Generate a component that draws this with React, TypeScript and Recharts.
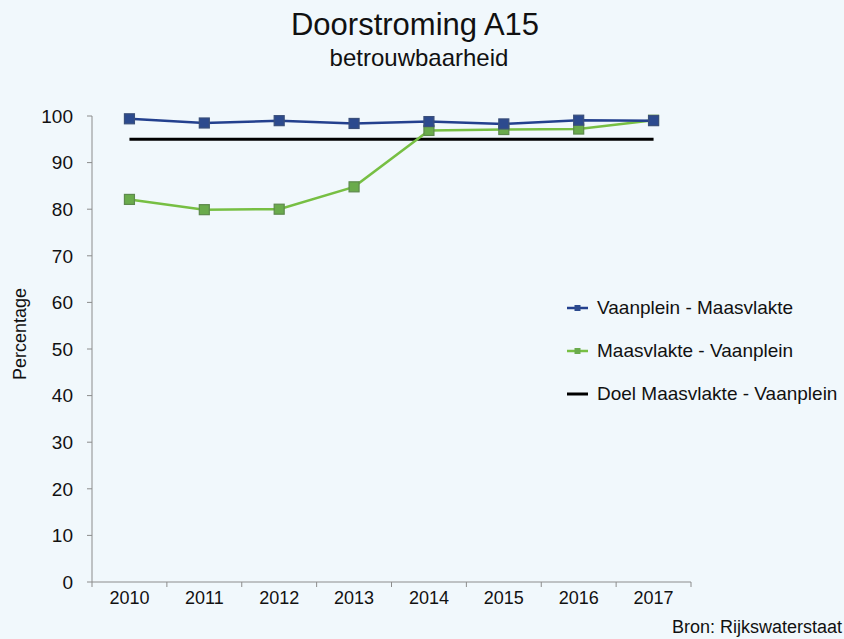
import React from 'react';
import { LineChart, Line, XAxis, YAxis, Legend } from 'recharts';

// Data
const jaren = ['2010', '2011', '2012', '2013', '2014', '2015', '2016', '2017'];
const vaanpleinMaasvlakte = [99.4, 98.5, 99.0, 98.4, 98.8, 98.3, 99.1, 99.0];
const maasvlakteVaanplein = [82.1, 79.9, 80.0, 84.8, 96.9, 97.1, 97.2, 99.1];
const doelMaasvlakteVaanplein = [95, 95, 95, 95, 95, 95, 95, 95];
const yTicks = [0, 10, 20, 30, 40, 50, 60, 70, 80, 90, 100];

const data = jaren.map((jaar, i) => ({
  jaar,
  vm: vaanpleinMaasvlakte[i],
  mv: maasvlakteVaanplein[i],
  doel: doelMaasvlakteVaanplein[i],
}));

const W = 844;
const H = 639;
const PLOT_LEFT = 92;
const PLOT_RIGHT = 691;
const BAND = (PLOT_RIGHT - PLOT_LEFT) / jaren.length;
const FONT = '"Liberation Sans", Arial, sans-serif';
const AXIS = '#8c8c8c';

const BLUE = '#23408e';
const BLUE_FILL = '#2c4a8e';
const GREEN = '#77bf43';
const GREEN_FILL = '#6aab4c';

const SquareDot = ({ cx, cy, fill, stroke }: any) => {
  if (cx == null || cy == null) return null;
  return <rect x={cx - 5} y={cy - 5} width={10} height={10} fill={fill} stroke={stroke} strokeWidth={1.2} />;
};

// x-axis ticks sit between the categories (Excel style)
const XTick = ({ x, y, payload, index }: any) => {
  const axisY = y - 5;
  const last = index === jaren.length - 1;
  return (
    <g>
      <line x1={x - BAND / 2} x2={x - BAND / 2} y1={axisY} y2={axisY + 5} stroke={AXIS} />
      {last && <line x1={x + BAND / 2} x2={x + BAND / 2} y1={axisY} y2={axisY + 5} stroke={AXIS} />}
      <text x={x} y={axisY + 22} textAnchor="middle" fill="#111" fontSize={18} fontFamily={FONT}>
        {payload.value}
      </text>
    </g>
  );
};

const legendItems = [
  { label: 'Vaanplein - Maasvlakte', color: BLUE, fill: BLUE_FILL, marker: true },
  { label: 'Maasvlakte - Vaanplein', color: GREEN, fill: GREEN_FILL, marker: true },
  { label: 'Doel Maasvlakte - Vaanplein', color: '#000', fill: '#000', marker: false },
];

const CustomLegend = () => (
  <div style={{ fontFamily: FONT, fontSize: 19, color: '#111' }}>
    {legendItems.map((it) => (
      <div key={it.label} style={{ display: 'flex', alignItems: 'center', height: 43 }}>
        <svg width={30} height={12}>
          <line x1={0} x2={21} y1={6} y2={6} stroke={it.color} strokeWidth={it.marker ? 2.5 : 3} />
          {it.marker && <rect x={7.5} y={3} width={6} height={6} fill={it.fill} />}
        </svg>
        <span>{it.label}</span>
      </div>
    ))}
  </div>
);

export default function App() {
  return (
    <div style={{ position: 'absolute', left: 0, top: 0, width: W, height: H, background: '#f1f8fc', fontFamily: FONT }}>
      <div style={{ position: 'absolute', left: 0, width: W - 14, top: 7, textAlign: 'center', fontSize: 31, color: '#111', lineHeight: '36px' }}>
        Doorstroming A15
      </div>
      <div style={{ position: 'absolute', left: 0, width: W - 6, top: 44, textAlign: 'center', fontSize: 24, color: '#111', lineHeight: '28px' }}>
        betrouwbaarheid
      </div>
      <div
        style={{
          position: 'absolute', left: 20, top: 334, transform: 'translate(-50%, -50%) rotate(-90deg)',
          fontSize: 18, color: '#111', whiteSpace: 'nowrap',
        }}
      >
        Percentage
      </div>
      <div style={{ position: 'absolute', right: 2, top: 617, fontSize: 18, color: '#111' }}>
        Bron: Rijkswaterstaat
      </div>
      <LineChart
        width={W}
        height={H}
        data={data}
        margin={{ top: 116, right: W - PLOT_RIGHT, bottom: 0, left: 0 }}
      >
        <XAxis
          dataKey="jaar"
          height={H - 582}
          axisLine={{ stroke: AXIS }}
          tickLine={false}
          tickSize={5}
          tickMargin={0}
          tick={<XTick />}
          interval={0}
          padding={{ left: BAND / 2, right: BAND / 2 }}
        />
        <YAxis
          width={PLOT_LEFT}
          domain={[0, 100]}
          ticks={yTicks}
          interval={0}
          axisLine={{ stroke: AXIS }}
          tickLine={{ stroke: AXIS }}
          tickSize={5}
          tickMargin={14}
          tick={{ fill: '#111', fontSize: 19, fontFamily: FONT }}
        />
        <Legend
          layout="vertical"
          align="center"
          verticalAlign="middle"
          content={<CustomLegend />}
          wrapperStyle={{ left: 567, top: 286, width: 280 }}
        />
        <Line
          dataKey="doel"
          stroke="#000"
          strokeWidth={3}
          dot={false}
          isAnimationActive={false}
        />
        <Line
          dataKey="mv"
          stroke={GREEN}
          strokeWidth={2.5}
          dot={<SquareDot fill={GREEN_FILL} stroke="#5d8a4c" />}
          isAnimationActive={false}
        />
        <Line
          dataKey="vm"
          stroke={BLUE}
          strokeWidth={2.5}
          dot={<SquareDot fill={BLUE_FILL} stroke="#3a4f7a" />}
          isAnimationActive={false}
        />
      </LineChart>
    </div>
  );
}
